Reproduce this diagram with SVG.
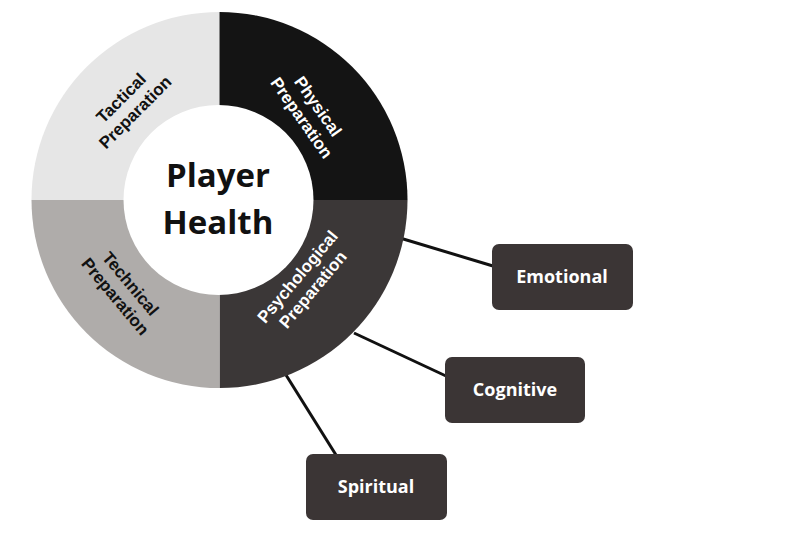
<svg xmlns="http://www.w3.org/2000/svg" width="800" height="558" viewBox="0 0 800 558">
<style>
.q{font-family:"Liberation Sans",Arial,sans-serif;font-weight:bold;font-size:17px;text-anchor:middle}
.box{fill:#3b3535}
.bt{font-family:"Open Sans","Liberation Sans",sans-serif;font-weight:bold;font-size:18px;fill:#fff;text-anchor:middle}
</style>
<rect width="800" height="558" fill="#fff"/>
<g id="connectors" stroke="#111" stroke-width="3">
<line x1="400" y1="238" x2="493" y2="266"/>
<line x1="354" y1="333" x2="446" y2="376"/>
<line x1="286" y1="375" x2="336" y2="455"/>
</g>
<g id="wheel">
<path d="M219.5,200 L31.5,200 A188,188 0 0 1 219.5,12 Z" fill="#e6e6e6"/>
<path d="M219.5,200 L219.5,12 A188,188 0 0 1 407.5,200 Z" fill="#141414"/>
<path d="M219.5,200 L407.5,200 A188,188 0 0 1 219.5,388 Z" fill="#3b3737"/>
<path d="M219.5,200 L219.5,388 A188,188 0 0 1 31.5,200 Z" fill="#afacaa"/>
<circle cx="218.5" cy="200" r="95" fill="#fff"/>
</g>
<g id="tactical"><text class="q" fill="#111" transform="translate(128,105) rotate(-45)"><tspan x="0" y="-4">Tactical</tspan><tspan x="0" y="16">Preparation</tspan></text></g>
<g id="physical"><text class="q" fill="#fff" transform="translate(310,112) rotate(55)"><tspan x="0" y="-4">Physical</tspan><tspan x="0" y="16">Preparation</tspan></text></g>
<g id="technical"><text class="q" fill="#111" transform="translate(123,290) rotate(50)"><tspan x="0" y="-4">Technical</tspan><tspan x="0" y="16">Preparation</tspan></text></g>
<g id="psychological"><text class="q" fill="#fff" transform="translate(305,283) rotate(-50)"><tspan x="0" y="-4">Psychological</tspan><tspan x="0" y="16">Preparation</tspan></text></g>
<g id="center"><text font-family="'Open Sans','Liberation Sans',sans-serif" font-weight="bold" font-size="33" text-anchor="middle" fill="#111"><tspan x="218" y="187">Player</tspan><tspan x="218" y="234">Health</tspan></text></g>
<g id="emotional"><rect class="box" x="492" y="244" width="141" height="66" rx="7"/><text class="bt" x="562" y="283">Emotional</text></g>
<g id="cognitive"><rect class="box" x="445" y="357" width="140" height="66" rx="7"/><text class="bt" x="515" y="396">Cognitive</text></g>
<g id="spiritual"><rect class="box" x="306" y="454" width="141" height="66" rx="7"/><text class="bt" x="376" y="493">Spiritual</text></g>
</svg>
